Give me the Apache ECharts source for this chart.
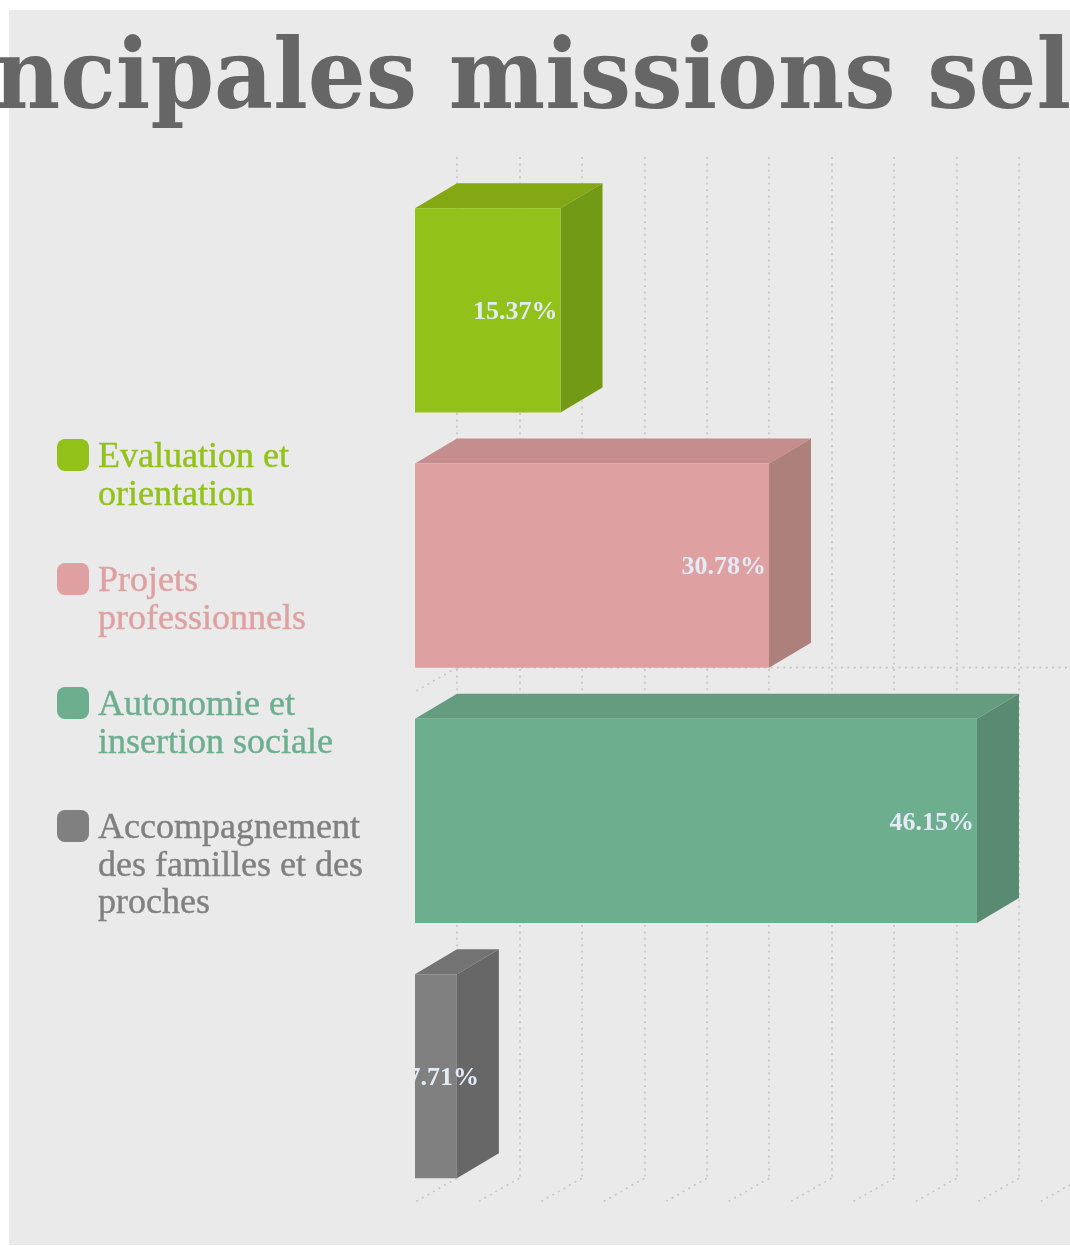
<!DOCTYPE html>
<html><head><meta charset="utf-8">
<style>html,body{margin:0;padding:0;background:#fff;overflow:hidden}#c{width:1070px;height:1246px;filter:blur(0.5px)}</style>
<script src="https://cdn.jsdelivr.net/npm/echarts@6/dist/echarts.min.js"></script>
</head><body><div id="c"></div>
<script>
const titleText = 'ncipales missions sel';
const categories = ['Evaluation et\norientation','Projets\nprofessionnels','Autonomie et\ninsertion sociale','Accompagnement\ndes familles et des\nproches'];
const values = [15.37, 30.78, 46.15, 7.71];
const frontColors = ['#92c219','#dea0a0','#6dae8f','#808080'];
const topColors = ['#83a814','#c58d8d','#659c80','#737373'];
const sideColors = ['#739a14','#ae807c','#598b72','#676767'];
const axisMin = 4.615, axisMax = 50.765, axisStep = 4.615;
const xTicks = [4.615,9.23,13.845,18.46,23.075,27.69,32.305,36.92,41.535,46.15,50.765];

const DX = 42, DY = 25, FLOOR = 24;
const GRID = '#c4c4c4';
const dash = [2, 4.4];
const chart = echarts.init(document.getElementById('c'), null, {renderer:'canvas', width:1070, height:1246});

function barSeries(i){
  return {
    type:'custom', name:categories[i], coordinateSystem:'cartesian2d', z:5,
    itemStyle:{color:frontColors[i]},
    encode:{x:0,y:1},
    data:[[values[i], categories[i]]],
    renderItem(params, api){
      const v = api.value(0);
      const p = api.coord([v, categories[i]]);
      const p0 = api.coord([axisMin, categories[i]]);
      const h = api.size([0,1])[1]*0.8;
      const L = p0[0]-DX, R = p[0]-DX, cy = p[1]+DY+0.7, T = cy-h/2, B = cy+h/2;
      const poly = (pts,fill)=>({type:'polygon',shape:{points:pts},style:{fill}});
      const textRight = Math.max(R-4, L+63)+1;
      return {type:'group',children:[
        poly([[L,T],[L+DX,T-DY],[R+DX,T-DY],[R,T]],topColors[i]),
        poly([[R,T],[R+DX,T-DY],[R+DX,B-DY],[R,B]],sideColors[i]),
        {type:'rect',shape:{x:L,y:T,width:R-L,height:h},style:{fill:frontColors[i]}},
        {type:'text',x:textRight,y:cy+2,
          style:{text:v.toFixed(2)+'%',align:'right',verticalAlign:'middle',fill:'#e2ebf6',
            font:'bold 26px "Liberation Serif", serif'},
          clipPath:{type:'rect',shape:{x:L-textRight,y:-40,width:textRight-L+10,height:80}}}
      ]};
    }
  };
}
const floorSeries = {
  type:'custom', silent:true, z:2, coordinateSystem:'cartesian2d', encode:{x:0},
  data:xTicks.map(t=>[t]),
  renderItem(params, api){
    const v = api.value(0);
    const last = api.coord([v, categories[3]]);
    const band = api.size([0,1])[1];
    const yb = last[1]+band/2;
    const style = {stroke:GRID,lineWidth:1.6,lineDash:dash};
    return {type:'group',children:[{type:'line',shape:{x1:last[0],y1:yb,x2:last[0]-DX,y2:yb+FLOOR},style}]};
  }
};
const rowSeries = {
  type:'custom', silent:true, z:2, coordinateSystem:'cartesian2d', encode:{y:0},
  data:[[categories[1]]],
  renderItem(params, api){
    const a = api.coord([axisMin, api.value(0)]);
    const b = api.coord([axisMax, api.value(0)]);
    const y = a[1]+api.size([0,1])[1]/2;
    const style = {stroke:GRID,lineWidth:1.6,lineDash:dash};
    return {type:'group',children:[
      {type:'line',shape:{x1:a[0],y1:y,x2:b[0],y2:y},style},
      {type:'line',shape:{x1:a[0],y1:y,x2:a[0]-DX,y2:y+FLOOR},style}
    ]};
  }
};
const legendCentres = [455,579,703,826];
const LH = 37.5;
const SHIFT = 3;
const legends = categories.map((c,i)=>{
  const lines = c.split('\n');
  const n = lines.length;
  const lead = (n-1)*LH + 2*SHIFT;
  const total = lead + n*LH;
  const txt = {color:frontColors[i],fontFamily:'"Liberation Serif", serif',fontSize:36,lineHeight:LH,
    textBorderColor:frontColors[i],textBorderWidth:0.4,padding:[0,0,0,4]};
  return {
    data:[c], left:57, top:legendCentres[i]-total/2, orient:'vertical',
    itemWidth:32,itemHeight:32,icon:'roundRect',padding:0,selectedMode:false,
    formatter:(name)=>'{s| }\n'+name.split('\n').map(l=>'{t|'+l+'}').join('\n'),
    textStyle:{color:frontColors[i],fontSize:36,
      rich:{s:{fontSize:10,lineHeight:lead,height:lead},t:txt}}
  };
});
chart.setOption({
  animation:false,
  backgroundColor:'#ffffff',
  grid:{left:457,top:157,width:624.4,height:1021.2,containLabel:false,outerBoundsMode:'none'},
  xAxis:{type:'value',min:axisMin,max:axisMax,interval:axisStep,
    axisLine:{show:false},axisTick:{show:false},axisLabel:{show:false},
    splitLine:{show:true,lineStyle:{color:GRID,type:dash,width:1.6}}},
  yAxis:{type:'category',inverse:true,data:categories,
    axisLine:{show:false},axisTick:{show:false},axisLabel:{show:false},splitLine:{show:false}},
  legend:legends,
  graphic:[
    {type:'rect',z:-100,silent:true,shape:{x:9,y:10,width:1061,height:1235},style:{fill:'#eaeaea'}},
    {type:'text',z:100,silent:true,x:-6,y:83,scaleX:0.93,
      style:{text:titleText,fill:'#666666',font:'bold 98px "DejaVu Serif", serif',align:'left',verticalAlign:'middle'}}
  ],
  series:[floorSeries,rowSeries].concat(categories.map((c,i)=>barSeries(i)))
});
</script></body></html>
